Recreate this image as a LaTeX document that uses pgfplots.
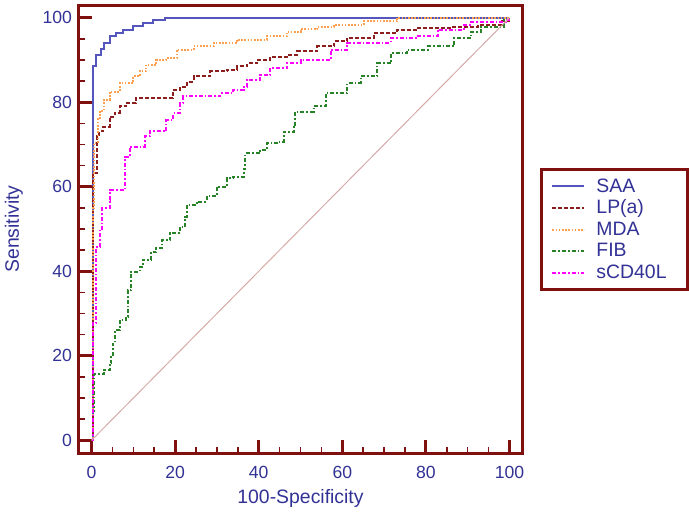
\documentclass[border=0pt]{standalone}
\usepackage{pgfplots}
\pgfplotsset{compat=1.18}
\usepackage{fontspec}
\setmainfont{Liberation Sans}
\definecolor{framecol}{RGB}{128,16,16}
\definecolor{textcol}{RGB}{50,50,150}
\definecolor{saa}{RGB}{85,85,190}
\definecolor{lpa}{RGB}{140,30,30}
\definecolor{mda}{RGB}{255,160,80}
\definecolor{fib}{RGB}{40,130,40}
\definecolor{scd}{RGB}{255,0,255}
\definecolor{diag}{RGB}{215,170,170}
\newcommand{\legtxt}[1]{\makebox[38.5pt][l]{#1}}
\begin{document}
\begin{tikzpicture}
\useasboundingbox (-39.5pt,-29pt) rectangle (305pt,226.5pt);
\begin{axis}[
  scale only axis, width=221.5pt, height=224pt,
  xmin=-3, xmax=103, ymin=-3, ymax=103,
  xtick={0,20,...,100}, ytick={0,20,...,100},
  minor tick num=3,
  xtick pos=bottom, ytick pos=left, tick align=inside,
  major tick length=6.5pt, minor tick length=3pt,
  every major tick/.style={line width=1.5pt, framecol},
  every minor tick/.style={line width=0.75pt, framecol},
  axis line style={line width=1.5pt, framecol},
  tick label style={font=\fontsize{8.8}{10}\selectfont, text=textcol},
  xticklabel style={yshift=-3pt},
  /pgf/number format/assume math mode=true,
  xlabel={100-Specificity}, ylabel={Sensitivity},
  label style={font=\fontsize{9.7}{11}\selectfont, text=textcol},
  xlabel style={yshift=1.2pt},
  ylabel style={yshift=3pt},
  legend style={at={(1.0406,0.636)}, anchor=north west, draw=framecol, line width=1.5pt,
    font=\fontsize{9.7}{11}\selectfont, text=textcol, row sep=0pt, inner xsep=5pt, inner ysep=3pt,
    nodes={inner ysep=0.3pt, text height=8pt, text depth=2.2pt},
    /tikz/every odd column/.append style={column sep=3.5pt}},
  legend cell align=left,
  legend image code/.code={\draw[#1, line width=1pt] (0pt,0pt) -- (16pt,0pt);},
  const plot mark left,
]
\addplot[saa, line width=1pt] coordinates {(0,0) (0.3,88.5) (1.1,91.2) (2.3,92.6) (3.1,94.0) (4.3,95.6)
  (5.9,96.4) (7.5,97.2) (9.9,98.1) (12.3,98.7) (14.7,99.4) (17.5,100) (100,100)};
\addlegendentry{\legtxt{SAA}}
\addplot[lpa, line width=1pt, dash pattern=on 2pt off 1pt] coordinates {(0,0) (0.3,63.3) (1.3,71.9)
  (1.9,73.1) (2.7,74.2) (4.3,76.6) (5.5,77.5) (6.7,79.0) (8.3,79.8) (10.7,81.0) (19.5,82.9) (21.2,83.7)
  (22.8,84.9) (24.4,86.1) (28.4,87.3) (32.4,87.7) (34.8,88.5) (37.2,89.2) (39.6,90.0) (42.8,90.8)
  (46.8,91.2) (49.2,92.0) (54.0,93.2) (58.0,94.4) (61.2,95.2) (67.6,96.4) (73.2,97.2) (78.0,97.6)
  (86.1,97.9) (92.5,98.3) (98.1,99.1) (100,100)};
\addlegendentry{\legtxt{LP(a)}}
\addplot[mda, line width=1pt, dash pattern=on 0.8pt off 0.8pt] coordinates {(0,0) (0.3,55) (0.6,70.4)
  (1.5,76) (2.0,78) (3.0,80.6) (4.3,82.5) (6.7,84.5) (9.9,86.1) (11.5,87.3) (13.1,88.9) (15.5,90.0)
  (17.9,90.4) (20.4,92.4) (24.4,93.2) (29.2,94.0) (34.8,94.8) (42.0,95.6) (46.8,96.7) (50.0,97.3)
  (54.0,97.9) (58.0,98.3) (65.2,99.1) (73.2,100) (100,100)};
\addlegendentry{\legtxt{MDA}}
\addplot[fib, line width=1pt, dash pattern=on 2pt off 1pt on 0.8pt off 1pt] coordinates {(0,0) (0.3,7)
  (0.6,15.8) (3.1,16.6) (4.3,18.2) (4.6,20.1) (5.1,22.9) (5.5,26.1) (6.7,28.4) (8.3,29.2) (8.7,35.5)
  (9.5,39.9) (11.5,41.1) (12.3,42.7) (14.3,44.6) (15.5,45.4) (16.8,47.4) (18.8,49.0) (21.2,50.5)
  (22.4,52.9) (22.8,55.7) (25.2,56.5) (27.6,57.7) (30.0,60.0) (32.4,62.0) (33.9,62.4) (36.4,64.2)
  (36.8,67.9) (40.4,68.7) (42.0,70.3) (44.4,70.7) (46.0,73.0) (48.4,74.2) (48.8,77.8) (53.2,79.0)
  (56.0,82.1) (61.2,84.5) (64.4,86.1) (68.4,89.2) (71.6,91.6) (75.6,92.4) (80.4,93.2) (86.8,95.2)
  (90.8,96.7) (93.3,97.9) (98.7,99.5) (100,100)};
\addlegendentry{\legtxt{FIB}}
\addplot[scd, line width=1pt, dash pattern=on 2pt off 1pt on 0.8pt off 1pt] coordinates {(0,0) (0.3,27.7)
  (1.0,45.8) (2.0,50) (2.6,55.0) (4.3,56.9) (4.5,59.2) (8.0,67.1) (9.1,69.5) (12.7,71.9) (13.9,73.1)
  (17.9,75.8) (19.5,77.4) (21.2,79.8) (22.0,81.4) (30.8,82.1) (33.9,82.9) (36.4,83.7) (37.2,85.3)
  (40.4,86.5) (42.8,88.1) (46.8,89.3) (50.0,90.0) (57.2,92.4) (61.2,94.0) (71.6,95.2) (78.0,95.6)
  (82.8,97.2) (89.2,98.3) (90.8,98.9) (99.2,99.5) (100,100)};
\addlegendentry{\legtxt{sCD40L}}
\addplot[diag, line width=0.5pt, sharp plot, forget plot] coordinates {(0,0) (100,100)};
\end{axis}
\end{tikzpicture}
\end{document}
